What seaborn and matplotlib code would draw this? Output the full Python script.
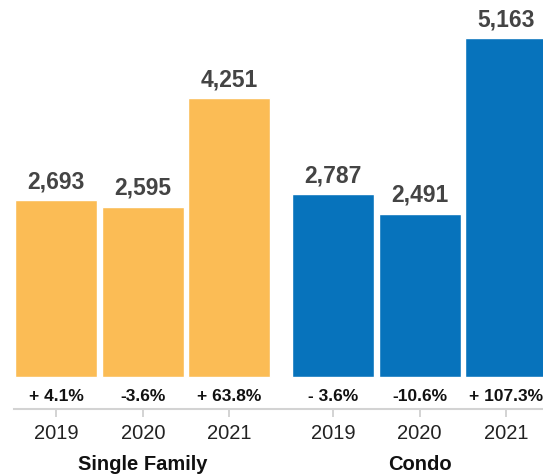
import matplotlib
matplotlib.use('Agg')
import pandas as pd
import matplotlib.pyplot as plt
import seaborn as sns

# data
years = ['2019', '2020', '2021']
groups = ['Single Family', 'Condo']
sf_values = [2693, 2595, 4251]
condo_values = [2787, 2491, 5163]
sf_changes = ['+ 4.1%', '-3.6%', '+ 63.8%']
condo_changes = ['- 3.6%', '-10.6%', '+ 107.3%']
colors = {'Single Family': '#FBBC55', 'Condo': '#0773BC'}

sns.set_style('white')
plt.rcParams['font.family'] = ['Liberation Sans', 'DejaVu Sans']

# build a long table, with a small gap between the two groups
group_gap = 0.2
rows = []
for g, (name, vals, chg) in enumerate(zip(groups, [sf_values, condo_values], [sf_changes, condo_changes])):
    for i, (yr, v, c) in enumerate(zip(years, vals, chg)):
        rows.append({'group': name, 'year': yr, 'value': v, 'change': c,
                     'pos': g * (len(years) + group_gap) + i})
df = pd.DataFrame(rows)

fig = plt.figure(figsize=(5.43, 4.75), dpi=100)
ax = fig.add_axes([14 / 543, 66 / 475, 529 / 543, 409 / 475])

sns.barplot(data=df, x='pos', y='value', hue='group', palette=colors,
            native_scale=True, dodge=False, width=0.95, saturation=1,
            legend=False, ax=ax)

ax.set_xlim(-0.49, 5.625)
ax.set_ylim(-490, 5750)

# value labels on top of bars, % change in the strip under them
for _, r in df.iterrows():
    ax.annotate(f"{r['value']:,}", (r['pos'], r['value']), xytext=(0, 8.6),
                textcoords='offset points', ha='center', va='baseline',
                fontsize=16.5, fontweight='bold', color='#444444')
    ax.text(r['pos'], -300, r['change'], ha='center', va='center',
            fontsize=12.5, fontweight='bold', color='#111111')

# group names under the year labels
for name, sub in df.groupby('group', sort=False):
    ax.text(sub['pos'].mean(), -0.135, name, transform=ax.get_xaxis_transform(),
            ha='center', va='center', fontsize=14.5, fontweight='bold', color='#111111')

ax.set_xticks(df['pos'])
ax.set_xticklabels(df['year'])
ax.set_yticks([])
ax.set_xlabel('')
ax.set_ylabel('')
ax.tick_params(axis='x', bottom=True, length=6, width=1.2, color='#cccccc',
               labelsize=14.5, labelcolor='#222222', pad=5)
for s in ['left', 'top', 'right']:
    ax.spines[s].set_visible(False)
ax.spines['bottom'].set_color('#d3d3d3')
ax.spines['bottom'].set_linewidth(1.5)

fig.savefig('out.png', dpi=100)
